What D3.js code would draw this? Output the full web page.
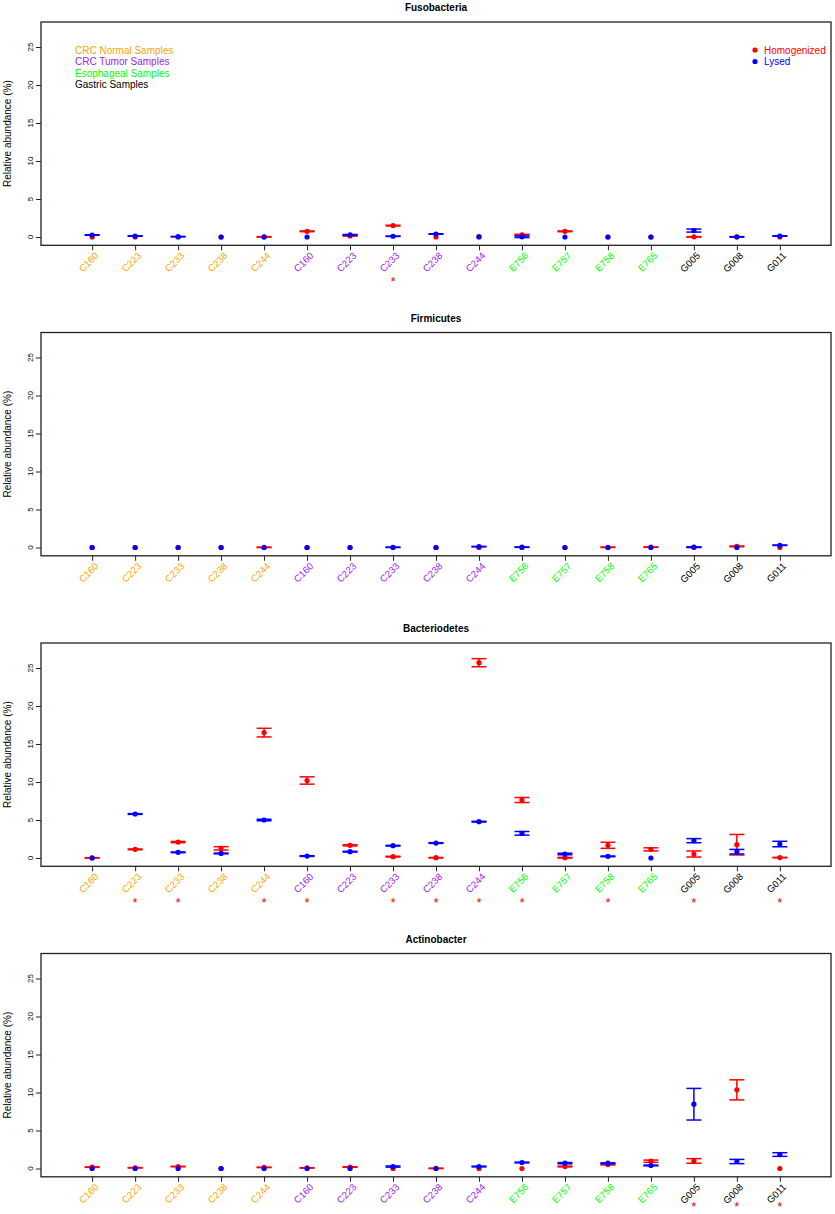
<!DOCTYPE html>
<html>
<head>
<meta charset="utf-8">
<script src="https://cdn.jsdelivr.net/npm/d3@7"></script>
<style>
  html, body { margin: 0; padding: 0; background: #fff; }
  svg { display: block; font-family: "Liberation Sans", Arial, Helvetica, sans-serif; }
</style>
</head>
<body>
<svg id="chart" width="835" height="1214"></svg>
<script>
// ---------- data ----------
const samples = ["C160","C223","C233","C238","C244","C160","C223","C233","C238","C244",
                 "E756","E757","E758","E765","G005","G008","G011"];
const sampleGroups = ["n","n","n","n","n","t","t","t","t","t","e","e","e","e","g","g","g"];
const groupNames = ["CRC Normal Samples","CRC Tumor Samples","Esophageal Samples","Gastric Samples"];
const yTicks = [0,5,10,15,20,25];
const seriesNames = ["Homogenized","Lysed"];

const fusoHom     = [0,0,0,0,0.02,0.75,0.15,1.5,0,0,0.3,0.75,0,0,0.02,0,0];
const fusoHomErr  = [0,0,0,0,0.03,0.05,0.03,0.05,0,0,0.05,0.05,0,0,0.03,0,0];
const fusoLys     = [0.26,0.13,0.05,0,0,0,0.3,0.1,0.4,0.05,0.03,0,0,0,0.85,0.02,0.13];
const fusoLysErr  = [0.03,0.03,0.03,0,0,0,0.03,0.03,0.03,0,0.1,0,0,0,0.2,0.03,0.03];
const fusoStars   = [7];

const firmHom     = [0,0,0,0,0.02,0,0,0,0,0,0,0,0.03,0.05,0.03,0.15,0];
const firmHomErr  = [0,0,0,0,0.03,0,0,0,0,0,0,0,0.03,0.03,0.03,0.05,0];
const firmLys     = [0,0,0,0,0,0,0,0.03,0,0.12,0.05,0,0,0,0.05,0,0.3];
const firmLysErr  = [0,0,0,0,0,0,0,0.03,0,0.03,0.03,0,0,0,0.03,0,0.03];
const firmStars   = [];

const bactHom     = [0.02,1.14,2.1,1.27,16.5,10.2,1.67,0.18,0.04,25.7,7.63,0.04,1.67,1.14,0.53,1.75,0.06];
const bactHomErr  = [0.03,0.05,0.08,0.22,0.57,0.48,0.08,0.05,0.03,0.53,0.33,0.04,0.4,0.2,0.4,1.35,0.03];
const bactLys     = [0,5.79,0.75,0.6,5.0,0.26,0.83,1.62,1.97,4.78,3.25,0.53,0.22,0,2.28,0.83,1.84];
const bactLysErr  = [0,0.05,0.05,0.05,0.1,0.05,0.05,0.05,0.05,0.05,0.24,0.1,0.05,0,0.27,0.3,0.36];
const bactStars   = [1,2,4,5,7,8,9,10,12,14,16];

const actiHom     = [0.18,0.1,0.26,0,0.15,0.08,0.2,0,0.02,0,0,0.26,0.52,0.96,1.0,10.35,0];
const actiHomErr  = [0.03,0.03,0.03,0,0.03,0.03,0.03,0,0.03,0,0,0.05,0.05,0.15,0.3,1.32,0];
const actiLys     = [0,0,0,0,0,0,0,0.26,0,0.26,0.79,0.7,0.7,0.4,8.46,0.92,1.84];
const actiLysErr  = [0,0,0,0,0,0,0,0.08,0,0.05,0.05,0.08,0.05,0.05,2.08,0.28,0.24];
const actiStars   = [14,15,16];

const panels = [
  {title:"Fusobacteria",  hom:fusoHom, homErr:fusoHomErr, lys:fusoLys, lysErr:fusoLysErr, stars:fusoStars, legend:true},
  {title:"Firmicutes",    hom:firmHom, homErr:firmHomErr, lys:firmLys, lysErr:firmLysErr, stars:firmStars},
  {title:"Bacteriodetes", hom:bactHom, homErr:bactHomErr, lys:bactLys, lysErr:bactLysErr, stars:bactStars},
  {title:"Actinobacter",  hom:actiHom, homErr:actiHomErr, lys:actiLys, lysErr:actiLysErr, stars:actiStars}
];

// ---------- style ----------
const groupColor = {n:"#FFA500", t:"#A020F0", e:"#00FF00", g:"#000000"};
const groupColorList = ["#FFA500","#A020F0","#00FF00","#000000"];
const seriesColor = ["#FF0000","#0000FF"];

const W = 835, H = 1214;
const svg = d3.select("#chart");
const defs = svg.append("defs");
const left = 41, right = 831;
const panelStep = 310.5;
const firstZero = 237;

const x = d3.scaleLinear().domain([-1.19, 17.19]).range([left, right]);

panels.forEach((p, k) => {
  const zero = firstZero + panelStep * k;
  const top = zero - 215, bottom = zero + 8.3;
  const y = d3.scaleLinear().domain([-1.09, 28.29]).range([bottom, top]);
  const g = svg.append("g");

  // title
  g.append("text").attr("x", (left + right) / 2).attr("y", top - 11)
    .attr("text-anchor", "middle").attr("font-size", 10).attr("font-weight", "bold")
    .text(p.title);

  // y axis ticks
  const yAxis = d3.axisLeft(y).tickValues(yTicks).tickSize(5).tickSizeOuter(0).tickFormat("");
  const ya = g.append("g").attr("transform", `translate(${left},0)`).call(yAxis);
  ya.select(".domain").remove();
  ya.selectAll(".tick line").attr("stroke", "#222").attr("stroke-width", 1);
  ya.selectAll(".tick text").remove();
  // y tick labels: text laid along an upward vertical path (reads bottom to top)
  yTicks.forEach((t, j) => {
    const id = `yp${k}_${j}`;
    const yy = y(t);
    defs.append("path").attr("id", id)
      .attr("d", `M${left - 8},${yy + 40} L${left - 8},${yy - 40}`);
    g.append("text").attr("font-size", 8).attr("fill", "#000")
      .append("textPath").attr("href", "#" + id).attr("startOffset", "50%")
      .attr("text-anchor", "middle").text(String(t));
  });

  const ytG = g.append("g").attr("transform", "translate(11," + ((top + bottom) / 2).toFixed(2) + ")");
  ytG.append("text")
    .attr("transform", "rotate(-90)")
    .attr("text-anchor", "middle").attr("font-size", 10).attr("fill", "#000")
    .text("Relative abundance (%)");

  // x axis ticks
  const xAxis = d3.axisBottom(x).tickValues(d3.range(samples.length)).tickSize(5).tickSizeOuter(0).tickFormat("");
  const xa = g.append("g").attr("transform", `translate(0,${bottom})`).call(xAxis);
  xa.select(".domain").remove();
  xa.selectAll(".tick line").attr("stroke", "#222").attr("stroke-width", 1);
  xa.selectAll(".tick text").remove();
  // x labels: text laid along a 45-degree path ending just right of each tick
  samples.forEach((name, i) => {
    const id = `xp${k}_${i}`;
    const ex = x(i) + 7, ey = bottom + 11;
    defs.append("path").attr("id", id)
      .attr("d", `M${(ex - 50).toFixed(2)},${(ey + 50).toFixed(2)} L${ex.toFixed(2)},${ey.toFixed(2)}`);
    g.append("text").attr("font-size", 9.6)
      .attr("fill", groupColor[sampleGroups[i]])
      .append("textPath").attr("href", "#" + id).attr("startOffset", "100%")
      .attr("text-anchor", "end").text(name);
  });

  // significance stars
  const starBase = Math.min(zero + 48.6, H - 3);
  p.stars.forEach(i => {
    g.append("text")
      .attr("x", x(i)).attr("y", starBase)
      .attr("text-anchor", "middle").attr("font-size", 13).attr("fill", "#FF0000")
      .text("*");
  });

  // box
  g.append("rect").attr("x", left).attr("y", top).attr("width", right - left).attr("height", bottom - top)
    .attr("fill", "none").attr("stroke", "#222").attr("stroke-width", 1.3);

  // series: red first, blue on top
  const capHalf = 7.5;
  [[p.hom, p.homErr], [p.lys, p.lysErr]].forEach(([vals, errs], s) => {
    const col = seriesColor[s];
    const sg = g.append("g");
    const withErr = d3.range(vals.length).filter(i => errs[i] > 0);
    sg.selectAll(".v").data(withErr).enter().append("line")
      .attr("x1", i => x(i)).attr("x2", i => x(i))
      .attr("y1", i => y(vals[i] - errs[i])).attr("y2", i => y(vals[i] + errs[i]))
      .attr("stroke", col).attr("stroke-width", 1.5);
    [-1, 1].forEach(sign => {
      sg.selectAll(".c" + (sign > 0 ? "p" : "m")).data(withErr).enter().append("line")
        .attr("x1", i => x(i) - capHalf).attr("x2", i => x(i) + capHalf)
        .attr("y1", i => y(vals[i] + sign * errs[i])).attr("y2", i => y(vals[i] + sign * errs[i]))
        .attr("stroke", col).attr("stroke-width", 1.5);
    });
    sg.selectAll("circle").data(vals).enter().append("circle")
      .attr("cx", (d, i) => x(i)).attr("cy", d => y(d)).attr("r", 2.6)
      .attr("fill", col);
  });

  // legends
  if (p.legend) {
    groupNames.forEach((name, j) => {
      g.append("text").attr("x", 75).attr("y", top + 28 + j * 11.5 + 3.5)
        .attr("font-size", 10).attr("fill", groupColorList[j]).text(name);
    });
    seriesNames.forEach((name, j) => {
      g.append("circle").attr("cx", 755).attr("cy", top + 28 + j * 11.5).attr("r", 2.6).attr("fill", seriesColor[j]);
      g.append("text").attr("x", 764).attr("y", top + 28 + j * 11.5 + 3.5)
        .attr("font-size", 10).attr("fill", seriesColor[j]).text(name);
    });
  }
});
</script>
</body>
</html>
